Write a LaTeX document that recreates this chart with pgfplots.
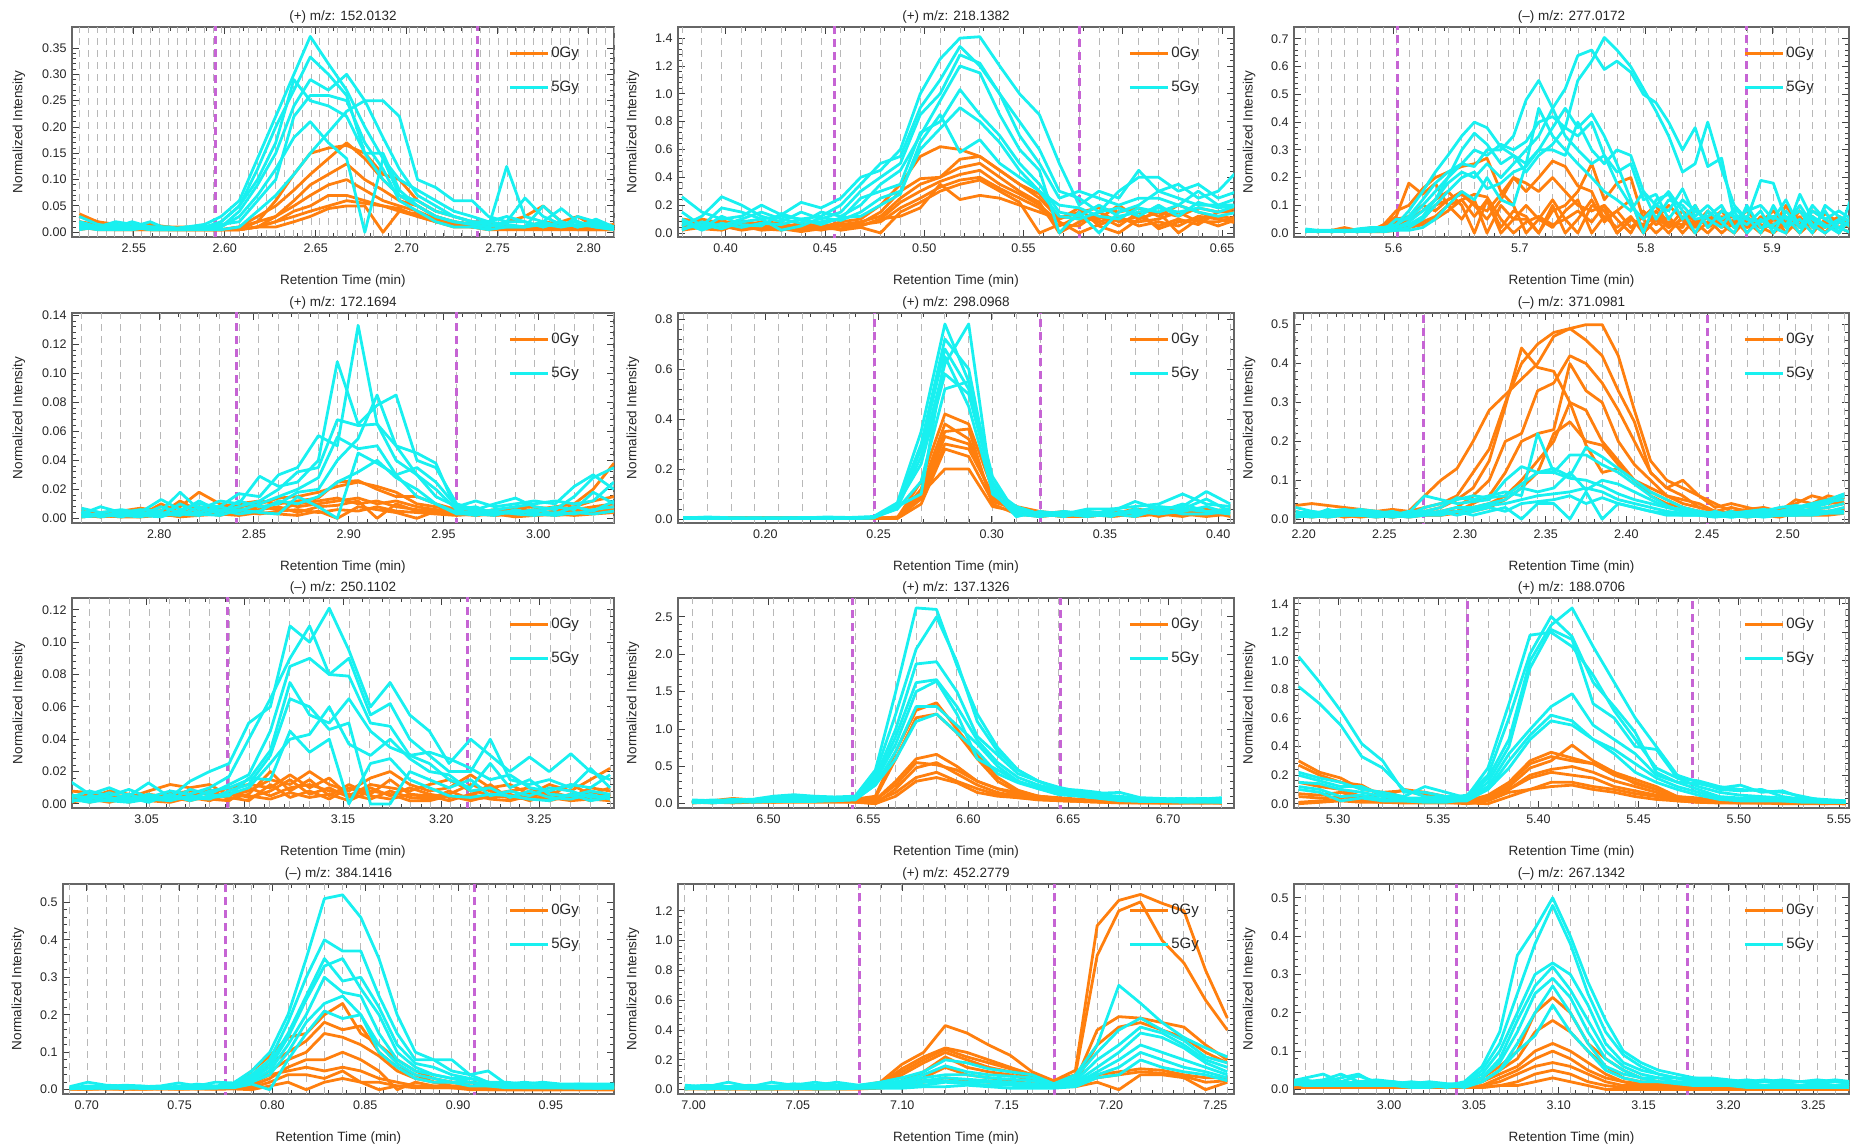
\documentclass[border=0pt]{standalone}
\usepackage{fontspec}
\setmainfont{Liberation Sans}
\usepackage{pgfplots}
\usepackage{pgfplotstable}
\pgfplotsset{compat=1.18}
\definecolor{orangeC}{RGB}{255,127,14}
\definecolor{cyanC}{RGB}{24,240,240}
\definecolor{magC}{RGB}{198,100,212}

\pgfplotstableread{
t o1 o2 o3 o4 o5 o6 o7 c1 c2 c3 c4 c5 c6 c7
2.520 0.03 0.02 0.01 0.035 0.01 0.02 0.005 0.02 0.03 0.01 0.01 0.02 0.005 0.015
2.530 0.02 0.015 0.01 0.02 0.005 0.01 0.01 0.01 0.015 0.005 0.01 0.01 0.01 0.005
2.540 0.015 0.01 0.005 0.01 0.005 0.01 0.005 0.015 0.01 0.005 0.01 0.02 0.005 0.01
2.549 0.01 0.015 0.01 0.01 0.005 0.005 0.005 0.01 0.02 0.01 0.005 0.015 0.005 0.01
2.559 0.01 0.01 0.005 0.015 0.01 0.005 0.005 0.02 0.01 0.005 0.01 0.01 0.01 0.005
2.569 0.01 0.01 0.005 0.01 0.005 0.005 0.005 0.005 0.01 0.005 0.005 0.01 0.005 0.005
2.579 0.01 0.005 0.005 0.005 0.005 0.005 0.005 0.01 0.005 0.005 0.01 0.005 0.005 0.01
2.589 0.005 0.005 0.005 0.01 0.005 0.005 0.005 0.015 0.01 0.01 0.005 0.01 0.005 0.005
2.598 0.005 0.005 0.005 0.005 0.005 0.005 0.005 0.03 0.02 0.01 0.02 0.015 0.005 0.01
2.608 0.01 0.01 0.005 0.005 0.005 0.005 0.005 0.06 0.05 0.04 0.05 0.02 0.01 0.03
2.618 0.03 0.02 0.01 0.02 0.01 0.01 0.01 0.14 0.12 0.09 0.10 0.06 0.04 0.07
2.628 0.05 0.06 0.03 0.03 0.02 0.02 0.01 0.22 0.20 0.15 0.17 0.10 0.07 0.12
2.638 0.08 0.11 0.06 0.05 0.04 0.03 0.02 0.30 0.27 0.24 0.29 0.22 0.11 0.18
2.647 0.11 0.15 0.09 0.07 0.05 0.04 0.03 0.372 0.333 0.29 0.25 0.26 0.15 0.21
2.657 0.14 0.16 0.11 0.09 0.07 0.05 0.045 0.32 0.30 0.27 0.24 0.26 0.19 0.17
2.667 0.17 0.165 0.13 0.10 0.07 0.06 0.05 0.27 0.26 0.30 0.22 0.25 0.23 0.14
2.677 0.14 0.15 0.10 0.08 0.06 0.055 0.05 0.20 0.15 0.25 0.15 0.17 0.25 0.00
2.687 0.10 0.11 0.08 0.06 0.05 0.05 0.00 0.14 0.15 0.18 0.10 0.12 0.25 0.14
2.696 0.07 0.10 0.06 0.05 0.04 0.045 0.04 0.07 0.08 0.12 0.07 0.06 0.22 0.10
2.706 0.05 0.06 0.05 0.04 0.03 0.03 0.035 0.06 0.05 0.07 0.05 0.04 0.10 0.08
2.716 0.03 0.04 0.03 0.025 0.02 0.02 0.02 0.04 0.03 0.05 0.03 0.02 0.085 0.06
2.726 0.02 0.03 0.02 0.02 0.015 0.01 0.015 0.03 0.02 0.03 0.02 0.01 0.06 0.04
2.736 0.015 0.02 0.015 0.01 0.01 0.01 0.01 0.02 0.015 0.02 0.015 0.01 0.06 0.03
2.745 0.01 0.02 0.01 0.01 0.005 0.005 0.01 0.02 0.01 0.015 0.01 0.005 0.03 0.02
2.755 0.02 0.01 0.01 0.005 0.01 0.005 0.005 0.03 0.02 0.01 0.125 0.01 0.02 0.015
2.765 0.03 0.01 0.01 0.01 0.005 0.005 0.01 0.02 0.065 0.01 0.03 0.01 0.02 0.01
2.775 0.05 0.02 0.015 0.01 0.01 0.005 0.005 0.01 0.03 0.05 0.02 0.02 0.01 0.015
2.785 0.02 0.015 0.01 0.01 0.005 0.01 0.005 0.02 0.015 0.02 0.045 0.01 0.02 0.01
2.794 0.03 0.01 0.01 0.005 0.005 0.005 0.01 0.01 0.02 0.01 0.02 0.03 0.01 0.015
2.804 0.01 0.015 0.01 0.01 0.005 0.005 0.005 0.02 0.01 0.015 0.01 0.02 0.025 0.01
2.814 0.015 0.01 0.01 0.005 0.01 0.005 0.005 0.01 0.005 0.01 0.01 0.005 0.01 0.005
}\tA

\pgfplotstableread{
t o1 o2 o3 o4 o5 o6 o7 c1 c2 c3 c4 c5 c6 c7
0.378 0.08 0.05 0.10 0.03 0.06 0.02 0.09 0.26 0.15 0.05 0.02 0.10 0.03 0.08
0.388 0.10 0.06 0.08 0.05 0.03 0.04 0.06 0.15 0.05 0.12 0.08 0.03 0.06 0.02
0.398 0.07 0.09 0.04 0.06 0.02 0.05 0.08 0.10 0.18 0.26 0.05 0.12 0.03 0.07
0.408 0.09 0.05 0.06 0.03 0.07 0.02 0.05 0.12 0.15 0.20 0.10 0.06 0.08 0.04
0.418 0.06 0.08 0.05 0.07 0.03 0.04 0.02 0.20 0.10 0.12 0.15 0.05 0.10 0.07
0.428 0.05 0.07 0.04 0.05 0.02 0.06 0.03 0.13 0.12 0.08 0.10 0.14 0.02 0.06
0.438 0.06 0.03 0.07 0.04 0.05 0.02 0.01 0.22 0.10 0.15 0.07 0.09 0.05 0.10
0.448 0.04 0.06 0.05 0.02 0.03 0.05 0.03 0.18 0.12 0.10 0.15 0.08 0.11 0.06
0.458 0.08 0.05 0.06 0.05 0.03 0.02 0.06 0.25 0.20 0.15 0.12 0.10 0.09 0.11
0.468 0.10 0.07 0.08 0.05 0.06 0.04 0.05 0.40 0.35 0.30 0.20 0.25 0.15 0.12
0.478 0.20 0.15 0.12 0.10 0.08 0.00 0.10 0.45 0.50 0.40 0.35 0.30 0.25 0.20
0.488 0.35 0.30 0.25 0.22 0.18 0.15 0.12 0.60 0.55 0.50 0.45 0.35 0.30 0.28
0.498 0.55 0.39 0.35 0.30 0.25 0.22 0.18 1.00 0.90 0.85 0.70 0.72 0.60 0.65
0.508 0.62 0.40 0.40 0.37 0.33 0.30 0.35 1.25 1.10 1.00 0.95 0.80 0.75 0.85
0.518 0.60 0.53 0.47 0.42 0.38 0.35 0.24 1.40 1.34 1.28 1.20 1.03 0.90 0.58
0.528 0.55 0.55 0.50 0.45 0.40 0.38 0.27 1.41 1.20 1.22 1.15 0.85 0.80 0.67
0.538 0.45 0.45 0.40 0.35 0.32 0.30 0.25 1.20 1.00 1.00 0.85 0.70 0.65 0.50
0.548 0.35 0.35 0.30 0.28 0.25 0.22 0.20 1.00 0.80 0.70 0.60 0.50 0.45 0.40
0.558 0.25 0.28 0.22 0.20 0.18 0.00 0.15 0.85 0.60 0.50 0.45 0.35 0.30 0.30
0.568 0.10 0.12 0.00 0.08 0.05 0.06 0.10 0.50 0.30 0.25 0.00 0.15 0.20 0.12
0.578 0.15 0.10 0.08 0.00 0.12 0.05 0.18 0.20 0.25 0.30 0.15 0.12 0.18 0.10
0.588 0.18 0.10 0.12 0.06 0.08 0.15 0.05 0.30 0.15 0.25 0.00 0.20 0.12 0.15
0.598 0.15 0.20 0.05 0.10 0.12 0.08 0.00 0.25 0.30 0.20 0.15 0.12 0.10 0.18
0.608 0.18 0.10 0.15 0.08 0.05 0.12 0.10 0.45 0.40 0.25 0.20 0.15 0.18 0.12
0.618 0.12 0.15 0.03 0.10 0.08 0.05 0.15 0.30 0.40 0.25 0.30 0.18 0.15 0.20
0.628 0.20 0.12 0.08 0.15 0.05 0.10 0.00 0.35 0.30 0.20 0.25 0.15 0.20 0.12
0.638 0.15 0.18 0.10 0.08 0.12 0.06 0.10 0.25 0.35 0.30 0.20 0.18 0.15 0.22
0.648 0.10 0.15 0.12 0.08 0.10 0.15 0.05 0.30 0.25 0.20 0.20 0.15 0.12 0.18
0.658 0.08 0.18 0.10 0.12 0.07 0.15 0.10 0.45 0.30 0.25 0.20 0.20 0.15 0.20
}\tB

\pgfplotstableread{
t o1 o2 o3 o4 o5 o6 o7 c1 c2 c3 c4 c5 c6 c7
5.530 0.01 0.005 0.01 0.005 0.01 0.005 0.01 0.015 0.01 0.005 0.01 0.005 0.01 0.005
5.540 0.005 0.01 0.005 0.01 0.005 0.01 0.005 0.01 0.005 0.01 0.005 0.01 0.005 0.01
5.551 0.01 0.005 0.01 0.005 0.01 0.005 0.01 0.01 0.01 0.005 0.01 0.005 0.01 0.005
5.561 0.02 0.01 0.005 0.01 0.005 0.01 0.005 0.005 0.01 0.01 0.005 0.01 0.005 0.01
5.571 0.01 0.005 0.01 0.005 0.01 0.005 0.01 0.015 0.005 0.01 0.01 0.005 0.01 0.005
5.582 0.005 0.01 0.02 0.01 0.005 0.01 0.005 0.02 0.01 0.005 0.01 0.01 0.005 0.01
5.592 0.03 0.02 0.01 0.02 0.01 0.03 0.005 0.02 0.015 0.01 0.02 0.01 0.01 0.005
5.602 0.08 0.05 0.03 0.02 0.04 0.06 0.01 0.03 0.02 0.05 0.03 0.01 0.02 0.01
5.612 0.10 0.06 0.05 0.03 0.02 0.18 0.02 0.06 0.04 0.05 0.08 0.02 0.03 0.01
5.623 0.16 0.10 0.08 0.05 0.04 0.14 0.03 0.12 0.08 0.10 0.15 0.05 0.06 0.02
5.633 0.20 0.08 0.12 0.10 0.06 0.18 0.05 0.18 0.12 0.15 0.22 0.10 0.12 0.05
5.643 0.22 0.12 0.15 0.12 0.10 0.10 0.08 0.22 0.18 0.20 0.28 0.15 0.20 0.10
5.654 0.24 0.15 0.10 0.14 0.05 0.12 0.12 0.25 0.22 0.25 0.35 0.20 0.30 0.15
5.664 0.25 0.10 0.00 0.10 0.12 0.06 0.14 0.30 0.20 0.24 0.40 0.22 0.36 0.12
5.674 0.27 0.05 0.12 0.08 0.00 0.12 0.13 0.28 0.25 0.30 0.38 0.16 0.32 0.20
5.685 0.15 0.12 0.00 0.14 0.10 0.02 0.05 0.32 0.20 0.30 0.31 0.18 0.25 0.12
5.695 0.10 0.20 0.05 0.20 0.05 0.08 0.00 0.30 0.25 0.35 0.28 0.22 0.28 0.10
5.705 0.00 0.15 0.05 0.18 0.10 0.06 0.04 0.33 0.30 0.48 0.25 0.24 0.22 0.25
5.715 0.05 0.20 0.00 0.15 0.05 0.00 0.06 0.40 0.35 0.55 0.45 0.30 0.28 0.30
5.726 0.12 0.26 0.08 0.20 0.02 0.10 0.03 0.42 0.45 0.45 0.35 0.38 0.32 0.30
5.736 0.05 0.24 0.10 0.15 0.08 0.00 0.05 0.38 0.52 0.35 0.30 0.45 0.38 0.28
5.746 0.00 0.17 0.15 0.10 0.12 0.05 0.08 0.55 0.64 0.30 0.25 0.38 0.35 0.40
5.757 0.10 0.15 0.25 0.08 0.00 0.12 0.04 0.62 0.66 0.25 0.20 0.43 0.40 0.30
5.767 0.08 0.05 0.12 0.10 0.06 0.04 0.10 0.705 0.59 0.28 0.15 0.35 0.28 0.25
5.777 0.00 0.08 0.18 0.05 0.02 0.08 0.00 0.66 0.62 0.18 0.12 0.25 0.22 0.30
5.788 0.05 0.12 0.20 0.00 0.06 0.02 0.05 0.60 0.58 0.10 0.08 0.12 0.25 0.28
5.798 0.03 0.00 0.05 0.08 0.00 0.06 0.02 0.52 0.50 0.05 0.15 0.00 0.12 0.15
5.808 0.06 0.05 0.00 0.03 0.05 0.10 0.08 0.44 0.47 0.10 0.05 0.12 0.14 0.10
5.818 0.02 0.10 0.04 0.06 0.00 0.03 0.02 0.35 0.40 0.08 0.12 0.14 0.05 0.15
5.829 0.08 0.05 0.03 0.00 0.06 0.02 0.05 0.22 0.30 0.16 0.10 0.05 0.12 0.08
5.839 0.04 0.02 0.08 0.05 0.03 0.10 0.00 0.25 0.38 0.06 0.05 0.10 0.08 0.00
5.849 0.00 0.06 0.05 0.03 0.08 0.02 0.04 0.40 0.24 0.10 0.06 0.02 0.05 0.08
5.860 0.05 0.03 0.00 0.06 0.02 0.05 0.08 0.23 0.27 0.05 0.10 0.08 0.02 0.04
5.870 0.06 0.00 0.04 0.02 0.05 0.03 0.02 0.10 0.05 0.08 0.02 0.06 0.09 0.00
5.880 0.02 0.05 0.08 0.04 0.00 0.06 0.03 0.05 0.08 0.00 0.06 0.03 0.05 0.10
5.891 0.04 0.02 0.03 0.00 0.06 0.02 0.05 0.19 0.10 0.05 0.00 0.08 0.04 0.02
5.901 0.08 0.06 0.02 0.05 0.03 0.00 0.02 0.18 0.05 0.02 0.10 0.00 0.06 0.03
5.911 0.03 0.00 0.06 0.02 0.05 0.04 0.10 0.05 0.12 0.00 0.02 0.08 0.03 0.06
5.922 0.06 0.05 0.02 0.08 0.00 0.03 0.02 0.08 0.02 0.14 0.05 0.02 0.10 0.00
5.932 0.00 0.03 0.06 0.02 0.04 0.08 0.05 0.02 0.10 0.05 0.00 0.06 0.03 0.08
5.942 0.05 0.07 0.00 0.04 0.02 0.05 0.03 0.08 0.05 0.02 0.10 0.03 0.00 0.05
5.953 0.02 0.04 0.06 0.00 0.05 0.02 0.06 0.00 0.08 0.05 0.06 0.00 0.04 0.02
5.963 0.05 0.02 0.04 0.06 0.03 0.00 0.02 0.13 0.05 0.02 0.04 0.06 0.03 0.00
}\tC

\pgfplotstableread{
t o1 o2 o3 o4 o5 o6 o7 c1 c2 c3 c4 c5 c6 c7
2.759 0.003 0.001 0.005 0.002 0.001 0.003 0.002 0.007 0.003 0.001 0.004 0.002 0.001 0.005
2.769 0.004 0.002 0.003 0.001 0.002 0.002 0.001 0.004 0.008 0.002 0.001 0.003 0.002 0.001
2.780 0.005 0.003 0.002 0.004 0.001 0.001 0.002 0.006 0.004 0.003 0.005 0.001 0.002 0.003
2.790 0.007 0.002 0.004 0.002 0.003 0.001 0.001 0.004 0.006 0.002 0.003 0.004 0.001 0.002
2.801 0.005 0.010 0.003 0.005 0.002 0.002 0.003 0.013 0.005 0.008 0.002 0.003 0.004 0.001
2.811 0.008 0.004 0.012 0.003 0.005 0.002 0.001 0.006 0.018 0.004 0.010 0.002 0.003 0.005
2.821 0.018 0.006 0.005 0.008 0.003 0.004 0.002 0.010 0.006 0.012 0.004 0.008 0.002 0.003
2.832 0.010 0.008 0.006 0.004 0.006 0.002 0.003 0.008 0.012 0.005 0.008 0.003 0.006 0.002
2.842 0.008 0.010 0.007 0.005 0.003 0.005 0.002 0.017 0.010 0.008 0.005 0.012 0.003 0.006
2.853 0.010 0.012 0.005 0.008 0.006 0.003 0.004 0.015 0.029 0.012 0.010 0.008 0.005 0.004
2.863 0.014 0.010 0.012 0.006 0.008 0.005 0.003 0.030 0.022 0.020 0.015 0.010 0.012 0.003
2.873 0.015 0.012 0.008 0.010 0.004 0.006 0.002 0.035 0.025 0.032 0.020 0.018 0.010 0.015
2.884 0.018 0.014 0.010 0.012 0.008 0.004 0.005 0.057 0.040 0.035 0.028 0.020 0.015 0.008
2.894 0.022 0.025 0.012 0.014 0.009 0.006 0.000 0.050 0.108 0.068 0.056 0.040 0.025 0.000
2.905 0.025 0.026 0.014 0.010 0.012 0.005 0.008 0.133 0.065 0.064 0.048 0.055 0.032 0.045
2.915 0.022 0.020 0.010 0.012 0.000 0.008 0.006 0.065 0.078 0.065 0.050 0.085 0.040 0.038
2.925 0.018 0.015 0.012 0.008 0.010 0.005 0.004 0.040 0.085 0.050 0.030 0.050 0.028 0.030
2.936 0.010 0.015 0.008 0.006 0.005 0.004 0.000 0.030 0.040 0.045 0.035 0.030 0.020 0.015
2.946 0.008 0.010 0.006 0.005 0.004 0.003 0.005 0.015 0.035 0.038 0.025 0.020 0.010 0.010
2.957 0.005 0.006 0.004 0.003 0.005 0.002 0.003 0.008 0.010 0.005 0.008 0.006 0.004 0.003
2.967 0.004 0.005 0.003 0.006 0.002 0.003 0.002 0.012 0.006 0.004 0.005 0.008 0.002 0.003
2.977 0.006 0.003 0.005 0.002 0.004 0.002 0.003 0.008 0.010 0.006 0.004 0.003 0.005 0.002
2.988 0.005 0.007 0.004 0.003 0.002 0.004 0.001 0.010 0.014 0.008 0.005 0.004 0.003 0.006
2.998 0.006 0.008 0.003 0.005 0.002 0.003 0.002 0.012 0.008 0.010 0.004 0.006 0.002 0.003
3.009 0.008 0.006 0.005 0.004 0.003 0.002 0.003 0.010 0.006 0.012 0.008 0.003 0.004 0.002
3.019 0.010 0.008 0.006 0.005 0.004 0.003 0.002 0.022 0.015 0.010 0.006 0.008 0.003 0.004
3.029 0.020 0.012 0.008 0.006 0.005 0.004 0.003 0.030 0.028 0.012 0.018 0.005 0.006 0.003
3.040 0.038 0.015 0.010 0.008 0.006 0.005 0.004 0.020 0.035 0.025 0.010 0.012 0.008 0.005
}\tD

\pgfplotstableread{
t o1 o2 o3 o4 o5 o6 o7 c1 c2 c3 c4 c5 c6 c7
0.1638 0.005 0.003 0.004 0.002 0.006 0.003 0.002 0.004 0.006 0.002 0.003 0.005 0.002 0.004
0.1743 0.004 0.005 0.003 0.004 0.002 0.003 0.002 0.008 0.004 0.003 0.002 0.004 0.003 0.002
0.1848 0.006 0.004 0.005 0.003 0.004 0.002 0.003 0.005 0.003 0.004 0.002 0.003 0.002 0.003
0.1953 0.005 0.006 0.004 0.003 0.002 0.004 0.002 0.004 0.005 0.002 0.003 0.002 0.004 0.002
0.2058 0.006 0.005 0.004 0.005 0.003 0.002 0.003 0.005 0.003 0.004 0.002 0.003 0.002 0.003
0.2163 0.004 0.005 0.003 0.004 0.003 0.002 0.002 0.004 0.006 0.003 0.002 0.004 0.003 0.002
0.2268 0.005 0.004 0.003 0.002 0.004 0.003 0.002 0.008 0.005 0.004 0.003 0.002 0.004 0.003
0.2373 0.004 0.003 0.005 0.002 0.003 0.002 0.003 0.006 0.004 0.003 0.005 0.002 0.003 0.002
0.2478 0.003 0.004 0.002 0.003 0.002 0.003 0.002 0.010 0.008 0.006 0.005 0.004 0.006 0.005
0.2583 0.005 0.003 0.008 0.004 0.002 0.006 0.003 0.065 0.055 0.050 0.045 0.060 0.040 0.050
0.2688 0.15 0.12 0.10 0.08 0.06 0.10 0.09 0.35 0.30 0.28 0.25 0.22 0.15 0.10
0.2793 0.42 0.38 0.35 0.30 0.28 0.20 0.33 0.78 0.72 0.68 0.62 0.58 0.52 0.65
0.2898 0.38 0.32 0.36 0.28 0.25 0.20 0.30 0.55 0.60 0.52 0.78 0.50 0.55 0.45
0.3003 0.12 0.08 0.06 0.10 0.07 0.05 0.09 0.17 0.12 0.15 0.10 0.14 0.12 0.11
0.3108 0.04 0.05 0.02 0.03 0.04 0.03 0.02 0.02 0.04 0.01 0.03 0.02 0.05 0.01
0.3213 0.02 0.03 0.01 0.02 0.02 0.01 0.02 0.01 0.02 0.03 0.02 0.01 0.02 0.03
0.3318 0.01 0.02 0.02 0.01 0.03 0.02 0.01 0.02 0.03 0.01 0.02 0.03 0.01 0.02
0.3423 0.02 0.01 0.03 0.02 0.01 0.02 0.01 0.04 0.02 0.03 0.01 0.02 0.03 0.01
0.3528 0.03 0.02 0.01 0.03 0.02 0.01 0.02 0.04 0.03 0.02 0.04 0.01 0.02 0.02
0.3633 0.02 0.04 0.02 0.01 0.03 0.02 0.01 0.05 0.07 0.03 0.02 0.04 0.01 0.03
0.3738 0.03 0.03 0.02 0.04 0.01 0.02 0.02 0.06 0.04 0.05 0.03 0.02 0.04 0.02
0.3843 0.04 0.02 0.03 0.02 0.03 0.01 0.02 0.10 0.05 0.04 0.06 0.03 0.02 0.04
0.3948 0.03 0.04 0.02 0.03 0.02 0.03 0.01 0.06 0.11 0.08 0.03 0.05 0.02 0.03
0.4053 0.04 0.03 0.02 0.03 0.02 0.01 0.02 0.05 0.06 0.03 0.04 0.02 0.03 0.02
}\tE

\pgfplotstableread{
t o1 o2 o3 o4 o5 o6 o7 c1 c2 c3 c4 c5 c6 c7
2.195 0.035 0.01 0.02 0.01 0.015 0.005 0.01 0.03 0.01 0.02 0.005 0.015 0.01 0.005
2.205 0.04 0.015 0.01 0.015 0.01 0.01 0.005 0.02 0.015 0.01 0.01 0.02 0.005 0.01
2.215 0.035 0.02 0.015 0.01 0.005 0.015 0.01 0.015 0.02 0.025 0.015 0.01 0.01 0.005
2.225 0.03 0.015 0.02 0.01 0.01 0.005 0.01 0.02 0.025 0.015 0.02 0.01 0.015 0.01
2.235 0.025 0.02 0.01 0.015 0.01 0.01 0.005 0.025 0.02 0.02 0.015 0.01 0.01 0.01
2.245 0.02 0.02 0.015 0.01 0.005 0.01 0.01 0.02 0.015 0.02 0.01 0.015 0.005 0.01
2.255 0.025 0.015 0.01 0.01 0.01 0.005 0.005 0.015 0.02 0.01 0.015 0.01 0.01 0.005
2.265 0.02 0.02 0.015 0.01 0.005 0.01 0.01 0.015 0.01 0.02 0.01 0.01 0.005 0.01
2.275 0.06 0.03 0.02 0.015 0.01 0.01 0.01 0.06 0.03 0.02 0.015 0.02 0.01 0.01
2.285 0.10 0.04 0.03 0.02 0.02 0.01 0.01 0.05 0.04 0.03 0.02 0.015 0.02 0.01
2.295 0.13 0.06 0.05 0.03 0.02 0.02 0.015 0.04 0.05 0.055 0.03 0.02 0.01 0.02
2.305 0.20 0.12 0.08 0.06 0.04 0.03 0.02 0.045 0.06 0.05 0.03 0.025 0.02 0.01
2.315 0.28 0.18 0.15 0.10 0.06 0.04 0.03 0.05 0.055 0.06 0.04 0.035 0.03 0.02
2.325 0.32 0.30 0.29 0.20 0.12 0.06 0.05 0.10 0.06 0.07 0.05 0.04 0.02 0.03
2.335 0.36 0.40 0.44 0.22 0.20 0.10 0.08 0.135 0.09 0.06 0.08 0.05 0.04 0.00
2.345 0.40 0.45 0.39 0.33 0.22 0.15 0.12 0.12 0.12 0.22 0.07 0.06 0.045 0.04
2.355 0.47 0.48 0.38 0.35 0.23 0.20 0.22 0.12 0.13 0.12 0.08 0.065 0.05 0.04
2.365 0.49 0.49 0.30 0.42 0.40 0.30 0.25 0.165 0.11 0.105 0.12 0.07 0.06 0.00
2.375 0.50 0.46 0.28 0.40 0.33 0.19 0.20 0.165 0.185 0.10 0.075 0.08 0.04 0.07
2.385 0.50 0.42 0.20 0.35 0.30 0.12 0.19 0.14 0.16 0.085 0.10 0.07 0.055 0.00
2.395 0.42 0.33 0.15 0.28 0.20 0.13 0.14 0.12 0.13 0.065 0.09 0.05 0.04 0.04
2.405 0.28 0.25 0.10 0.20 0.14 0.10 0.10 0.09 0.10 0.05 0.07 0.04 0.03 0.03
2.415 0.15 0.12 0.08 0.12 0.10 0.07 0.06 0.06 0.07 0.04 0.05 0.03 0.02 0.02
2.425 0.10 0.08 0.06 0.08 0.06 0.05 0.04 0.035 0.05 0.03 0.03 0.02 0.015 0.01
2.435 0.08 0.10 0.05 0.06 0.04 0.03 0.03 0.02 0.03 0.025 0.02 0.015 0.01 0.01
2.445 0.06 0.06 0.04 0.03 0.03 0.02 0.02 0.015 0.02 0.02 0.01 0.015 0.01 0.01
2.455 0.03 0.04 0.02 0.02 0.02 0.015 0.01 0.01 0.015 0.01 0.02 0.01 0.005 0.01
2.465 0.04 0.02 0.03 0.015 0.01 0.01 0.01 0.015 0.01 0.02 0.01 0.005 0.01 0.005
2.475 0.03 0.025 0.02 0.01 0.015 0.01 0.005 0.02 0.015 0.01 0.015 0.01 0.005 0.01
2.485 0.02 0.03 0.015 0.02 0.01 0.01 0.01 0.025 0.02 0.015 0.01 0.01 0.01 0.005
2.495 0.025 0.02 0.02 0.015 0.01 0.005 0.01 0.02 0.03 0.02 0.015 0.01 0.01 0.01
2.505 0.04 0.05 0.03 0.02 0.02 0.015 0.01 0.03 0.035 0.025 0.02 0.015 0.01 0.01
2.515 0.06 0.04 0.035 0.025 0.02 0.015 0.01 0.04 0.03 0.035 0.025 0.02 0.015 0.01
2.525 0.05 0.06 0.04 0.03 0.02 0.02 0.01 0.05 0.04 0.045 0.03 0.02 0.02 0.015
2.535 0.04 0.05 0.045 0.04 0.025 0.02 0.015 0.065 0.06 0.05 0.04 0.03 0.02 0.015
}\tF

\pgfplotstableread{
t o1 o2 o3 o4 o5 o6 o7 c1 c2 c3 c4 c5 c6 c7
3.011 0.008 0.005 0.003 0.006 0.002 0.004 0.001 0.014 0.004 0.002 0.006 0.001 0.003 0.005
3.021 0.007 0.004 0.006 0.002 0.005 0.001 0.003 0.006 0.008 0.003 0.002 0.005 0.001 0.004
3.031 0.006 0.008 0.004 0.003 0.002 0.005 0.001 0.010 0.005 0.007 0.002 0.004 0.003 0.002
3.041 0.004 0.006 0.002 0.005 0.003 0.001 0.004 0.005 0.009 0.003 0.006 0.002 0.004 0.001
3.051 0.008 0.003 0.005 0.002 0.004 0.006 0.002 0.013 0.004 0.006 0.002 0.005 0.001 0.003
3.062 0.012 0.006 0.003 0.007 0.002 0.004 0.001 0.004 0.008 0.002 0.005 0.003 0.006 0.002
3.072 0.010 0.008 0.005 0.003 0.006 0.002 0.004 0.014 0.006 0.009 0.003 0.004 0.002 0.005
3.082 0.012 0.006 0.009 0.004 0.003 0.005 0.002 0.020 0.010 0.006 0.008 0.003 0.005 0.004
3.092 0.005 0.010 0.003 0.007 0.002 0.004 0.006 0.025 0.017 0.012 0.010 0.008 0.006 0.005
3.102 0.008 0.012 0.006 0.004 0.010 0.002 0.005 0.050 0.040 0.018 0.015 0.012 0.010 0.016
3.113 0.015 0.010 0.020 0.008 0.005 0.012 0.003 0.060 0.065 0.045 0.033 0.030 0.025 0.015
3.123 0.012 0.018 0.008 0.015 0.010 0.004 0.007 0.110 0.090 0.085 0.075 0.065 0.040 0.045
3.133 0.020 0.010 0.015 0.006 0.012 0.008 0.004 0.100 0.110 0.090 0.055 0.060 0.043 0.032
3.143 0.012 0.016 0.005 0.010 0.008 0.003 0.006 0.121 0.080 0.080 0.050 0.046 0.060 0.040
3.153 0.008 0.005 0.012 0.004 0.006 0.010 0.002 0.095 0.090 0.079 0.065 0.050 0.037 0.000
3.164 0.016 0.012 0.006 0.010 0.003 0.005 0.008 0.060 0.055 0.050 0.045 0.000 0.030 0.025
3.174 0.020 0.010 0.015 0.005 0.008 0.003 0.006 0.075 0.062 0.048 0.035 0.000 0.040 0.028
3.184 0.012 0.008 0.006 0.010 0.004 0.006 0.002 0.055 0.040 0.030 0.030 0.020 0.028 0.015
3.194 0.008 0.012 0.004 0.006 0.003 0.005 0.002 0.045 0.030 0.032 0.025 0.015 0.020 0.010
3.204 0.010 0.015 0.006 0.004 0.008 0.002 0.005 0.025 0.020 0.028 0.015 0.010 0.018 0.005
3.215 0.018 0.008 0.012 0.005 0.003 0.006 0.002 0.040 0.020 0.022 0.010 0.015 0.008 0.004
3.225 0.010 0.006 0.008 0.012 0.004 0.003 0.005 0.030 0.040 0.015 0.025 0.005 0.010 0.006
3.235 0.012 0.008 0.005 0.003 0.006 0.002 0.004 0.020 0.015 0.018 0.010 0.008 0.004 0.005
3.245 0.006 0.010 0.004 0.008 0.002 0.005 0.003 0.029 0.012 0.010 0.015 0.005 0.008 0.003
3.255 0.012 0.005 0.008 0.003 0.006 0.002 0.004 0.020 0.015 0.008 0.006 0.010 0.004 0.002
3.266 0.008 0.012 0.004 0.006 0.003 0.005 0.002 0.031 0.010 0.012 0.005 0.008 0.003 0.006
3.276 0.015 0.006 0.010 0.004 0.008 0.002 0.003 0.020 0.022 0.010 0.008 0.004 0.006 0.002
3.286 0.022 0.010 0.008 0.005 0.004 0.006 0.002 0.015 0.010 0.018 0.006 0.005 0.003 0.004
}\tG

\pgfplotstableread{
t o1 o2 o3 o4 o5 o6 o7 c1 c2 c3 c4 c5 c6 c7
6.4617 0.03 0.02 0.04 0.01 0.02 0.03 0.01 0.05 0.03 0.02 0.04 0.01 0.03 0.02
6.4719 0.04 0.03 0.02 0.03 0.01 0.02 0.02 0.04 0.05 0.03 0.02 0.03 0.01 0.02
6.4821 0.07 0.04 0.03 0.02 0.03 0.02 0.01 0.05 0.04 0.06 0.03 0.02 0.03 0.02
6.4923 0.05 0.04 0.03 0.04 0.02 0.03 0.02 0.06 0.05 0.04 0.03 0.04 0.02 0.03
6.5025 0.06 0.05 0.04 0.03 0.03 0.02 0.02 0.10 0.08 0.06 0.05 0.04 0.03 0.03
6.5127 0.10 0.08 0.06 0.05 0.04 0.03 0.02 0.12 0.10 0.08 0.06 0.05 0.04 0.03
6.5229 0.09 0.07 0.05 0.06 0.04 0.03 0.02 0.10 0.09 0.07 0.06 0.05 0.04 0.03
6.5331 0.08 0.06 0.05 0.04 0.03 0.03 0.02 0.09 0.08 0.07 0.06 0.05 0.04 0.04
6.5433 0.06 0.05 0.04 0.03 0.03 0.02 0.02 0.10 0.09 0.08 0.08 0.07 0.06 0.05
6.5535 0.10 0.08 0.05 0.05 0.00 0.03 0.00 0.45 0.40 0.35 0.30 0.30 0.25 0.25
6.5637 0.70 0.60 0.30 0.25 0.20 0.15 0.10 1.50 1.20 1.00 0.90 0.80 0.70 0.60
6.5739 1.25 1.15 0.60 0.55 0.48 0.35 0.30 2.62 2.07 1.87 1.62 1.50 1.30 1.10
6.5841 1.35 1.20 0.66 0.52 0.55 0.42 0.35 2.60 2.50 1.90 1.66 1.64 1.30 1.20
6.5943 1.00 0.95 0.50 0.45 0.40 0.30 0.28 1.85 1.90 1.50 1.30 1.20 1.05 0.95
6.6045 0.65 0.60 0.30 0.30 0.25 0.20 0.15 1.20 1.10 0.90 0.85 0.60 0.80 0.70
6.6147 0.35 0.30 0.20 0.20 0.15 0.12 0.10 0.75 0.70 0.65 0.55 0.45 0.50 0.40
6.6249 0.18 0.15 0.12 0.15 0.10 0.08 0.08 0.45 0.45 0.40 0.35 0.30 0.30 0.28
6.6351 0.10 0.10 0.08 0.10 0.06 0.06 0.05 0.30 0.30 0.30 0.25 0.22 0.20 0.20
6.6453 0.08 0.07 0.06 0.07 0.05 0.04 0.04 0.22 0.20 0.20 0.18 0.15 0.15 0.12
6.6555 0.06 0.05 0.05 0.05 0.04 0.03 0.03 0.16 0.15 0.18 0.14 0.12 0.10 0.10
6.6657 0.04 0.04 0.03 0.04 0.03 0.02 0.02 0.14 0.12 0.15 0.10 0.08 0.08 0.07
6.6759 0.03 0.03 0.02 0.03 0.02 0.02 0.01 0.15 0.10 0.05 0.08 0.06 0.05 0.04
6.6861 0.02 0.02 0.02 0.03 0.02 0.01 0.01 0.08 0.07 0.05 0.06 0.05 0.04 0.03
6.6963 0.03 0.02 0.02 0.02 0.01 0.01 0.01 0.07 0.06 0.05 0.05 0.04 0.03 0.03
6.7065 0.02 0.03 0.02 0.02 0.01 0.01 0.01 0.06 0.07 0.05 0.04 0.04 0.03 0.02
6.7167 0.03 0.02 0.02 0.01 0.02 0.01 0.01 0.07 0.06 0.05 0.04 0.03 0.03 0.02
6.7269 0.02 0.03 0.01 0.02 0.01 0.01 0.01 0.06 0.08 0.05 0.04 0.03 0.02 0.02
}\tH

\pgfplotstableread{
t o1 o2 o3 o4 o5 o6 o7 c1 c2 c3 c4 c5 c6 c7
5.2803 0.30 0.27 0.15 0.07 0.05 0.01 0.00 1.03 0.82 0.22 0.20 0.15 0.12 0.10
5.2908 0.22 0.20 0.12 0.06 0.04 0.02 0.01 0.85 0.70 0.18 0.16 0.14 0.10 0.08
5.3013 0.18 0.15 0.10 0.08 0.05 0.03 0.02 0.65 0.55 0.15 0.12 0.10 0.05 0.02
5.3118 0.10 0.13 0.05 0.04 0.03 0.02 0.01 0.42 0.33 0.10 0.12 0.08 0.06 0.04
5.3223 0.08 0.05 0.06 0.03 0.02 0.01 0.01 0.30 0.25 0.08 0.06 0.05 0.03 0.02
5.3328 0.09 0.10 0.04 0.03 0.02 0.01 0.005 0.08 0.10 0.05 0.04 0.03 0.02 0.02
5.3433 0.06 0.08 0.03 0.02 0.02 0.01 0.005 0.08 0.05 0.12 0.04 0.03 0.02 0.01
5.3538 0.04 0.05 0.02 0.02 0.01 0.01 0.005 0.05 0.04 0.08 0.03 0.03 0.02 0.01
5.3643 0.02 0.01 0.01 0.005 0.01 0.00 0.005 0.05 0.06 0.04 0.03 0.04 0.02 0.03
5.3748 0.06 0.05 0.04 0.03 0.03 0.02 0.00 0.25 0.20 0.18 0.15 0.12 0.10 0.10
5.3853 0.15 0.14 0.12 0.10 0.10 0.08 0.05 0.70 0.60 0.45 0.40 0.35 0.30 0.25
5.3958 0.30 0.28 0.25 0.20 0.18 0.10 0.10 1.18 1.05 1.00 0.95 0.52 0.48 0.45
5.4063 0.36 0.33 0.30 0.24 0.22 0.15 0.12 1.20 1.31 1.25 1.22 0.68 0.62 0.58
5.4168 0.32 0.30 0.41 0.26 0.20 0.15 0.13 1.10 1.17 1.37 1.15 0.77 0.58 0.55
5.4273 0.28 0.28 0.30 0.22 0.18 0.12 0.10 0.90 0.85 1.10 0.70 0.55 0.45 0.45
5.4378 0.22 0.20 0.22 0.16 0.12 0.10 0.08 0.65 0.68 0.85 0.60 0.45 0.38 0.35
5.4483 0.17 0.15 0.14 0.12 0.09 0.07 0.05 0.45 0.50 0.60 0.40 0.35 0.28 0.22
5.4588 0.12 0.10 0.10 0.08 0.06 0.05 0.03 0.25 0.22 0.40 0.38 0.20 0.18 0.15
5.4693 0.05 0.04 0.05 0.03 0.03 0.02 0.02 0.18 0.15 0.20 0.18 0.15 0.12 0.10
5.4798 0.04 0.03 0.03 0.02 0.02 0.01 0.01 0.16 0.14 0.15 0.12 0.10 0.08 0.06
5.4903 0.02 0.02 0.02 0.01 0.01 0.01 0.005 0.12 0.11 0.10 0.08 0.05 0.04 0.03
5.5008 0.02 0.01 0.02 0.01 0.01 0.005 0.005 0.10 0.13 0.09 0.06 0.04 0.03 0.02
5.5113 0.02 0.02 0.01 0.01 0.005 0.005 0.005 0.09 0.08 0.10 0.05 0.04 0.03 0.02
5.5218 0.01 0.02 0.01 0.005 0.01 0.005 0.00 0.08 0.09 0.05 0.04 0.03 0.02 0.02
5.5323 0.01 0.01 0.005 0.01 0.005 0.005 0.00 0.05 0.04 0.03 0.03 0.02 0.02 0.01
5.5428 0.005 0.01 0.005 0.005 0.00 0.005 0.00 0.02 0.03 0.02 0.02 0.01 0.01 0.01
5.5533 0.005 0.005 0.005 0.00 0.005 0.00 0.00 0.02 0.02 0.015 0.01 0.01 0.01 0.01
}\tI

\pgfplotstableread{
t o1 o2 o3 o4 o5 o6 o7 c1 c2 c3 c4 c5 c6 c7
0.6908 0.005 0.003 0.004 0.002 0.003 0.001 0.002 0.008 0.005 0.003 0.006 0.002 0.004 0.003
0.7006 0.006 0.004 0.003 0.002 0.004 0.002 0.001 0.020 0.010 0.006 0.004 0.008 0.003 0.005
0.7104 0.005 0.006 0.004 0.003 0.002 0.003 0.002 0.012 0.008 0.006 0.010 0.004 0.005 0.003
0.7202 0.006 0.005 0.003 0.004 0.002 0.001 0.002 0.010 0.012 0.005 0.004 0.008 0.003 0.006
0.7300 0.008 0.004 0.005 0.002 0.003 0.002 0.001 0.008 0.010 0.006 0.005 0.004 0.007 0.003
0.7398 0.006 0.008 0.004 0.003 0.002 0.003 0.002 0.010 0.006 0.008 0.004 0.005 0.003 0.004
0.7496 0.005 0.006 0.007 0.003 0.004 0.002 0.001 0.018 0.008 0.006 0.010 0.004 0.005 0.003
0.7594 0.008 0.005 0.004 0.006 0.002 0.003 0.002 0.010 0.015 0.008 0.005 0.006 0.004 0.003
0.7692 0.006 0.007 0.005 0.003 0.004 0.002 0.001 0.020 0.010 0.008 0.006 0.005 0.004 0.006
0.7790 0.010 0.008 0.006 0.005 0.003 0.004 0.002 0.018 0.015 0.012 0.010 0.008 0.006 0.005
0.7888 0.05 0.03 0.02 0.01 0.015 0.005 0.00 0.05 0.04 0.035 0.03 0.025 0.02 0.015
0.7986 0.09 0.07 0.05 0.03 0.04 0.02 0.01 0.10 0.08 0.07 0.06 0.05 0.04 0.00
0.8084 0.14 0.10 0.08 0.06 0.05 0.04 0.02 0.20 0.18 0.15 0.14 0.12 0.10 0.08
0.8182 0.15 0.13 0.10 0.08 0.06 0.04 0.00 0.35 0.30 0.25 0.24 0.20 0.18 0.15
0.8280 0.20 0.18 0.15 0.08 0.05 0.03 0.02 0.51 0.40 0.35 0.33 0.30 0.23 0.21
0.8378 0.23 0.16 0.14 0.10 0.06 0.05 0.03 0.52 0.37 0.29 0.35 0.26 0.25 0.19
0.8476 0.15 0.17 0.12 0.08 0.05 0.02 0.02 0.46 0.37 0.30 0.27 0.25 0.20 0.20
0.8574 0.12 0.10 0.09 0.05 0.03 0.02 0.00 0.35 0.25 0.22 0.20 0.15 0.12 0.10
0.8672 0.08 0.06 0.05 0.00 0.02 0.01 0.01 0.20 0.15 0.12 0.10 0.08 0.07 0.06
0.8770 0.05 0.04 0.03 0.02 0.01 0.01 0.005 0.10 0.08 0.07 0.06 0.05 0.04 0.03
0.8868 0.03 0.02 0.02 0.01 0.01 0.005 0.005 0.08 0.08 0.06 0.04 0.04 0.03 0.02
0.8966 0.02 0.02 0.01 0.01 0.005 0.005 0.005 0.08 0.05 0.04 0.03 0.03 0.02 0.02
0.9064 0.02 0.01 0.01 0.005 0.005 0.005 0.00 0.04 0.04 0.03 0.03 0.02 0.02 0.01
0.9162 0.015 0.01 0.005 0.005 0.005 0.00 0.00 0.02 0.05 0.02 0.02 0.015 0.01 0.01
0.9260 0.01 0.01 0.005 0.005 0.00 0.00 0.00 0.02 0.015 0.015 0.01 0.01 0.01 0.005
0.9358 0.01 0.005 0.005 0.005 0.00 0.00 0.00 0.015 0.02 0.01 0.01 0.01 0.005 0.005
0.9456 0.01 0.005 0.005 0.00 0.00 0.00 0.00 0.02 0.015 0.01 0.01 0.005 0.005 0.005
0.9554 0.01 0.01 0.005 0.005 0.00 0.00 0.00 0.015 0.012 0.01 0.008 0.005 0.005 0.005
0.9652 0.01 0.005 0.005 0.00 0.005 0.00 0.00 0.015 0.015 0.01 0.008 0.006 0.005 0.004
0.9750 0.01 0.01 0.005 0.005 0.00 0.00 0.00 0.015 0.012 0.01 0.008 0.006 0.004 0.004
0.9848 0.01 0.005 0.005 0.005 0.00 0.00 0.00 0.015 0.014 0.01 0.008 0.006 0.005 0.004
}\tJ

\pgfplotstableread{
t o1 o2 o3 o4 o5 o6 o7 c1 c2 c3 c4 c5 c6 c7
6.9958 0.02 0.01 0.015 0.01 0.005 0.01 0.005 0.03 0.02 0.01 0.015 0.01 0.005 0.01
7.0062 0.02 0.015 0.01 0.01 0.01 0.005 0.005 0.02 0.03 0.015 0.01 0.01 0.01 0.005
7.0166 0.015 0.02 0.01 0.005 0.01 0.005 0.005 0.05 0.02 0.02 0.015 0.01 0.005 0.01
7.0270 0.02 0.015 0.01 0.01 0.005 0.005 0.005 0.02 0.03 0.02 0.01 0.015 0.01 0.005
7.0374 0.015 0.01 0.015 0.01 0.005 0.005 0.005 0.05 0.02 0.025 0.015 0.01 0.01 0.005
7.0478 0.02 0.015 0.01 0.01 0.01 0.005 0.005 0.03 0.04 0.02 0.015 0.01 0.005 0.01
7.0582 0.02 0.02 0.01 0.01 0.005 0.005 0.005 0.05 0.03 0.02 0.02 0.01 0.01 0.005
7.0686 0.02 0.015 0.015 0.01 0.01 0.005 0.005 0.03 0.05 0.025 0.02 0.015 0.01 0.005
7.0790 0.025 0.02 0.015 0.01 0.01 0.005 0.005 0.03 0.03 0.02 0.02 0.015 0.01 0.01
7.0894 0.05 0.04 0.03 0.03 0.02 0.015 0.01 0.05 0.04 0.03 0.02 0.02 0.015 0.01
7.0998 0.17 0.14 0.12 0.10 0.06 0.04 0.03 0.08 0.06 0.05 0.04 0.03 0.02 0.01
7.1102 0.25 0.22 0.20 0.18 0.12 0.08 0.05 0.12 0.10 0.08 0.06 0.05 0.03 0.02
7.1206 0.43 0.28 0.27 0.25 0.22 0.15 0.08 0.20 0.16 0.10 0.08 0.06 0.05 0.02
7.1310 0.38 0.25 0.22 0.20 0.15 0.10 0.06 0.18 0.12 0.10 0.07 0.05 0.04 0.03
7.1414 0.30 0.20 0.18 0.15 0.12 0.08 0.05 0.14 0.10 0.08 0.06 0.05 0.03 0.02
7.1518 0.23 0.15 0.14 0.12 0.10 0.06 0.04 0.12 0.09 0.07 0.05 0.04 0.03 0.01
7.1622 0.12 0.10 0.10 0.08 0.06 0.04 0.03 0.10 0.08 0.06 0.04 0.03 0.02 0.01
7.1726 0.06 0.06 0.05 0.05 0.04 0.03 0.02 0.04 0.03 0.03 0.02 0.02 0.015 0.01
7.1830 0.13 0.10 0.06 0.05 0.04 0.03 0.02 0.10 0.08 0.06 0.05 0.04 0.03 0.02
7.1934 1.10 0.90 0.40 0.30 0.10 0.08 0.05 0.30 0.25 0.20 0.15 0.12 0.10 0.08
7.2038 1.27 1.20 0.49 0.42 0.12 0.10 0.00 0.70 0.40 0.30 0.25 0.20 0.15 0.10
7.2142 1.31 1.26 0.48 0.45 0.14 0.12 0.10 0.58 0.48 0.42 0.38 0.30 0.25 0.20
7.2246 1.25 1.00 0.45 0.40 0.13 0.11 0.10 0.45 0.40 0.38 0.35 0.25 0.20 0.15
7.2350 1.20 0.85 0.42 0.35 0.10 0.09 0.08 0.35 0.33 0.30 0.28 0.20 0.15 0.12
7.2454 0.80 0.60 0.30 0.25 0.08 0.05 0.00 0.28 0.22 0.20 0.18 0.15 0.12 0.10
7.2558 0.48 0.40 0.20 0.18 0.08 0.06 0.05 0.22 0.18 0.15 0.12 0.10 0.08 0.06
}\tK

\pgfplotstableread{
t o1 o2 o3 o4 o5 o6 o7 c1 c2 c3 c4 c5 c6 c7
2.9404 0.01 0.005 0.01 0.005 0.01 0.005 0.005 0.02 0.015 0.03 0.01 0.02 0.01 0.015
2.9508 0.01 0.01 0.005 0.01 0.005 0.005 0.005 0.03 0.02 0.015 0.025 0.01 0.015 0.01
2.9612 0.005 0.01 0.01 0.005 0.005 0.01 0.005 0.04 0.025 0.02 0.015 0.02 0.01 0.01
2.9716 0.01 0.005 0.01 0.01 0.005 0.005 0.005 0.02 0.04 0.03 0.02 0.015 0.01 0.02
2.9820 0.01 0.01 0.005 0.005 0.01 0.005 0.005 0.035 0.02 0.04 0.015 0.02 0.01 0.01
2.9924 0.005 0.01 0.01 0.005 0.005 0.005 0.005 0.02 0.025 0.015 0.02 0.01 0.015 0.01
3.0028 0.01 0.005 0.005 0.01 0.005 0.005 0.005 0.015 0.02 0.02 0.01 0.015 0.01 0.01
3.0132 0.01 0.01 0.005 0.005 0.005 0.005 0.005 0.02 0.015 0.01 0.015 0.01 0.01 0.005
3.0236 0.005 0.01 0.01 0.005 0.005 0.005 0.005 0.015 0.02 0.01 0.01 0.015 0.01 0.005
3.0340 0.01 0.005 0.005 0.005 0.005 0.005 0.005 0.01 0.015 0.01 0.01 0.01 0.005 0.01
3.0444 0.015 0.01 0.01 0.005 0.005 0.005 0.005 0.02 0.015 0.015 0.01 0.01 0.01 0.005
3.0548 0.03 0.02 0.02 0.01 0.01 0.005 0.005 0.06 0.05 0.04 0.03 0.03 0.02 0.02
3.0652 0.06 0.05 0.04 0.03 0.02 0.01 0.01 0.15 0.12 0.10 0.08 0.07 0.05 0.05
3.0756 0.10 0.08 0.06 0.05 0.04 0.02 0.01 0.35 0.25 0.20 0.18 0.15 0.12 0.10
3.0860 0.20 0.15 0.10 0.08 0.06 0.04 0.02 0.42 0.38 0.30 0.27 0.25 0.20 0.14
3.0964 0.24 0.18 0.12 0.10 0.07 0.05 0.03 0.50 0.48 0.33 0.32 0.29 0.27 0.22
3.1068 0.20 0.15 0.10 0.08 0.06 0.04 0.02 0.40 0.38 0.30 0.26 0.24 0.20 0.15
3.1172 0.12 0.10 0.07 0.05 0.04 0.02 0.01 0.28 0.25 0.22 0.18 0.15 0.12 0.10
3.1276 0.08 0.06 0.04 0.03 0.02 0.01 0.00 0.18 0.15 0.12 0.10 0.08 0.06 0.05
3.1380 0.05 0.03 0.02 0.02 0.01 0.005 0.00 0.10 0.09 0.07 0.06 0.05 0.04 0.03
3.1484 0.03 0.02 0.015 0.01 0.01 0.005 0.00 0.07 0.06 0.05 0.04 0.03 0.03 0.02
3.1588 0.02 0.015 0.01 0.01 0.005 0.005 0.00 0.05 0.04 0.04 0.03 0.03 0.02 0.02
3.1692 0.015 0.01 0.01 0.005 0.005 0.00 0.00 0.04 0.03 0.03 0.03 0.02 0.02 0.015
3.1796 0.01 0.01 0.005 0.005 0.005 0.00 0.00 0.03 0.03 0.025 0.02 0.02 0.015 0.01
3.1900 0.01 0.005 0.005 0.005 0.00 0.00 0.00 0.03 0.025 0.02 0.02 0.015 0.01 0.01
3.2004 0.01 0.005 0.005 0.005 0.00 0.00 0.00 0.025 0.02 0.02 0.015 0.01 0.01 0.01
3.2108 0.01 0.01 0.005 0.00 0.00 0.00 0.00 0.02 0.025 0.015 0.015 0.01 0.01 0.005
3.2212 0.01 0.005 0.005 0.005 0.00 0.00 0.00 0.025 0.02 0.02 0.01 0.01 0.01 0.005
3.2316 0.01 0.005 0.005 0.00 0.005 0.00 0.00 0.02 0.025 0.015 0.015 0.01 0.005 0.005
3.2420 0.01 0.01 0.005 0.005 0.00 0.00 0.00 0.02 0.02 0.02 0.01 0.01 0.01 0.005
3.2524 0.01 0.005 0.005 0.00 0.00 0.00 0.00 0.025 0.02 0.015 0.015 0.01 0.005 0.005
3.2628 0.01 0.005 0.005 0.005 0.00 0.00 0.00 0.02 0.025 0.02 0.01 0.01 0.01 0.005
3.2732 0.01 0.005 0.005 0.00 0.00 0.00 0.00 0.02 0.02 0.015 0.015 0.01 0.005 0.005
}\tL

\newcommand\labfont{\fontsize{13.5}{15}\selectfont}
\pgfplotsset{
  oline/.style={color=orangeC, line width=2.8pt, line join=round},
  cline/.style={color=cyanC, line width=2.8pt, line join=round},
  oc/.style={oline, forget plot},
  cc/.style={cline, forget plot},
  mg/.style={color=magC, line width=3pt, dash pattern=on 8pt off 5pt, forget plot},
  yl/.style={every axis y label/.style={at={([xshift=#1]axis description cs:0,0.5)}, rotate=90, anchor=center, font=\labfont, text=black!85}},
  panel/.style={
    scale only axis, anchor=north west, height=210pt,
    axis line style={draw=black!60, line width=1.2pt},
    tick align=inside, xtick pos=both, ytick pos=both,
    major tick length=7pt, minor tick length=4pt,
    tick style={black!75, line width=0.9pt},
    minor x tick num=4, minor y tick num=4,
    ticklabel style={font=\fontsize{12.5}{14}\selectfont, text=black!85},
    xticklabel style={yshift=-3pt},
    yticklabel style={xshift=-2pt},
    title style={font=\labfont, text=black!85, yshift=-6pt},
    xlabel={Retention Time (min)},
    ylabel={Normalized Intensity},
    every axis x label/.style={at={([yshift=-44pt]axis description cs:0.5,0)}, anchor=center, font=\labfont, text=black!85},
    legend style={draw=none, fill=none, at={(1,1)}, anchor=north east, xshift=-30pt, yshift=-16pt,
      font=\fontsize{15}{16}\selectfont, row sep=18pt, text=black!85},
    legend cell align=left,
    legend image code/.code={\draw[##1, line width=3pt] (0pt,0pt) -- (38pt,0pt);},
    extra x tick style={grid=major, major tick length=0pt,
      major grid style={black!28, line width=0.9pt, dash pattern=on 7pt off 5pt}},
    extra x tick labels={},
  },
}
\newcommand\drawlines[1]{%
  \pgfplotsinvokeforeach{o1,o2,o3,o4,o5,o6,o7}{\addplot[oc] table[x=t,y=##1]{#1};}%
  \pgfplotsinvokeforeach{c1,c2,c3,c4,c5,c6,c7}{\addplot[cc] table[x=t,y=##1]{#1};}%
}
\newcommand\drawmag[2]{%
  \addplot[mg] coordinates {(#1,-1) (#1,3)};
  \addplot[mg] coordinates {(#2,-1) (#2,3)};
}
\newcommand\drawleg{\addlegendimage{oline}\addlegendentry{0Gy}\addlegendimage{cline}\addlegendentry{5Gy}}

\begin{document}
\begin{tikzpicture}
\useasboundingbox (0,0) rectangle (1856pt,-1148pt);

% Row 1
\begin{axis}[panel, at={(72pt,-27pt)}, width=542pt, yl=-53pt,
  xmin=2.516, xmax=2.814, ymin=-0.009, ymax=0.39,
  xtick={2.55,2.6,2.65,2.7,2.75,2.8}, xticklabels={2.55,2.60,2.65,2.70,2.75,2.80},
  ytick={0,0.05,0.1,0.15,0.2,0.25,0.3,0.35}, yticklabels={0.00,0.05,0.10,0.15,0.20,0.25,0.30,0.35},
  extra x ticks={2.5200,2.5249,...,2.8140},
  title={(+) m/z: 152.0132}]
\drawmag{2.595}{2.739}
\drawlines{\tA}
\drawleg
\end{axis}

\begin{axis}[panel, at={(678pt,-27pt)}, width=556pt, yl=-45pt,
  xmin=0.376, xmax=0.656, ymin=-0.029, ymax=1.48,
  xtick={0.4,0.45,0.5,0.55,0.6,0.65}, xticklabels={0.40,0.45,0.50,0.55,0.60,0.65},
  ytick={0,0.2,0.4,0.6,0.8,1,1.2,1.4}, yticklabels={0.0,0.2,0.4,0.6,0.8,1.0,1.2,1.4},
  extra x ticks={0.378,0.388,...,0.656},
  title={(+) m/z: 218.1382}]
\drawmag{0.455}{0.578}
\drawlines{\tB}
\drawleg
\end{axis}

\begin{axis}[panel, at={(1294pt,-27pt)}, width=555pt, yl=-45pt,
  xmin=5.521, xmax=5.961, ymin=-0.014, ymax=0.743,
  xtick={5.6,5.7,5.8,5.9}, xticklabels={5.6,5.7,5.8,5.9},
  ytick={0,0.1,0.2,0.3,0.4,0.5,0.6,0.7}, yticklabels={0.0,0.1,0.2,0.3,0.4,0.5,0.6,0.7},
  extra x ticks={5.5300,5.5403,...,5.961},
  title={(–) m/z: 277.0172}]
\drawmag{5.603}{5.880}
\drawlines{\tC}
\drawleg
\end{axis}

% Row 2
\begin{axis}[panel, at={(72pt,-313pt)}, width=542pt, yl=-53pt,
  xmin=2.754, xmax=3.040, ymin=-0.0032, ymax=0.1416,
  xtick={2.8,2.85,2.9,2.95,3.0}, xticklabels={2.80,2.85,2.90,2.95,3.00},
  ytick={0,0.02,0.04,0.06,0.08,0.1,0.12,0.14}, yticklabels={0.00,0.02,0.04,0.06,0.08,0.10,0.12,0.14},
  extra x ticks={2.759,2.7694,...,3.04},
  title={(+) m/z: 172.1694}]
\drawmag{2.841}{2.957}
\drawlines{\tD}
\drawleg
\end{axis}

\begin{axis}[panel, at={(678pt,-313pt)}, width=556pt, yl=-45pt,
  xmin=0.1614, xmax=0.407, ymin=-0.016, ymax=0.824,
  xtick={0.2,0.25,0.3,0.35,0.4}, xticklabels={0.20,0.25,0.30,0.35,0.40},
  ytick={0,0.2,0.4,0.6,0.8}, yticklabels={0.0,0.2,0.4,0.6,0.8},
  extra x ticks={0.1638,0.1743,...,0.407},
  title={(+) m/z: 298.0968}]
\drawmag{0.248}{0.3214}
\drawlines{\tE}
\drawleg
\end{axis}

\begin{axis}[panel, at={(1294pt,-313pt)}, width=555pt, yl=-45pt,
  xmin=2.194, xmax=2.538, ymin=-0.010, ymax=0.530,
  xtick={2.2,2.25,2.3,2.35,2.4,2.45,2.5}, xticklabels={2.20,2.25,2.30,2.35,2.40,2.45,2.50},
  ytick={0,0.1,0.2,0.3,0.4,0.5}, yticklabels={0.0,0.1,0.2,0.3,0.4,0.5},
  extra x ticks={2.195,2.205,...,2.538},
  title={(–) m/z: 371.0981}]
\drawmag{2.274}{2.450}
\drawlines{\tF}
\drawleg
\end{axis}

% Row 3
\begin{axis}[panel, at={(72pt,-598pt)}, width=542pt, yl=-53pt,
  xmin=3.012, xmax=3.288, ymin=-0.0025, ymax=0.1273,
  xtick={3.05,3.1,3.15,3.2,3.25}, xticklabels={3.05,3.10,3.15,3.20,3.25},
  ytick={0,0.02,0.04,0.06,0.08,0.1,0.12}, yticklabels={0.00,0.02,0.04,0.06,0.08,0.10,0.12},
  extra x ticks={3.0209,3.0311,...,3.288},
  title={(–) m/z: 250.1102}]
\drawmag{3.091}{3.2136}
\drawlines{\tG}
\drawleg
\end{axis}

\begin{axis}[panel, at={(678pt,-598pt)}, width=556pt, yl=-45pt,
  xmin=6.4547, xmax=6.733, ymin=-0.058, ymax=2.753,
  xtick={6.5,6.55,6.6,6.65,6.7}, xticklabels={6.50,6.55,6.60,6.65,6.70},
  ytick={0,0.5,1,1.5,2,2.5}, yticklabels={0.0,0.5,1.0,1.5,2.0,2.5},
  extra x ticks={6.4617,6.4719,...,6.733},
  title={(+) m/z: 137.1326}]
\drawmag{6.542}{6.6464}
\drawlines{\tH}
\drawleg
\end{axis}

\begin{axis}[panel, at={(1294pt,-598pt)}, width=555pt, yl=-45pt,
  xmin=5.278, xmax=5.555, ymin=-0.03, ymax=1.44,
  xtick={5.3,5.35,5.4,5.45,5.5,5.55}, xticklabels={5.30,5.35,5.40,5.45,5.50,5.55},
  ytick={0,0.2,0.4,0.6,0.8,1,1.2,1.4}, yticklabels={0.0,0.2,0.4,0.6,0.8,1.0,1.2,1.4},
  extra x ticks={5.2803,5.2908,...,5.555},
  title={(+) m/z: 188.0706}]
\drawmag{5.3646}{5.477}
\drawlines{\tI}
\drawleg
\end{axis}

% Row 4
\begin{axis}[panel, at={(63pt,-884pt)}, width=551pt, yl=-45pt,
  xmin=0.6872, xmax=0.984, ymin=-0.0115, ymax=0.549,
  xtick={0.7,0.75,0.8,0.85,0.9,0.95}, xticklabels={0.70,0.75,0.80,0.85,0.90,0.95},
  ytick={0,0.1,0.2,0.3,0.4,0.5}, yticklabels={0.0,0.1,0.2,0.3,0.4,0.5},
  extra x ticks={0.6908,0.7006,...,0.984},
  title={(–) m/z: 384.1416}]
\drawmag{0.775}{0.909}
\drawlines{\tJ}
\drawleg
\end{axis}

\begin{axis}[panel, at={(678pt,-884pt)}, width=556pt, yl=-45pt,
  xmin=6.9925, xmax=7.259, ymin=-0.029, ymax=1.38,
  xtick={7.0,7.05,7.1,7.15,7.2,7.25}, xticklabels={7.00,7.05,7.10,7.15,7.20,7.25},
  ytick={0,0.2,0.4,0.6,0.8,1,1.2}, yticklabels={0.0,0.2,0.4,0.6,0.8,1.0,1.2},
  extra x ticks={6.9958,7.0062,...,7.259},
  title={(+) m/z: 452.2779}]
\drawmag{7.0793}{7.173}
\drawlines{\tK}
\drawleg
\end{axis}

\begin{axis}[panel, at={(1294pt,-884pt)}, width=555pt, yl=-45pt,
  xmin=2.944, xmax=3.271, ymin=-0.012, ymax=0.536,
  xtick={3.0,3.05,3.1,3.15,3.2,3.25}, xticklabels={3.00,3.05,3.10,3.15,3.20,3.25},
  ytick={0,0.1,0.2,0.3,0.4,0.5}, yticklabels={0.0,0.1,0.2,0.3,0.4,0.5},
  extra x ticks={2.9508,2.9612,...,3.271},
  title={(–) m/z: 267.1342}]
\drawmag{3.0397}{3.176}
\drawlines{\tL}
\drawleg
\end{axis}
\end{tikzpicture}
\end{document}
